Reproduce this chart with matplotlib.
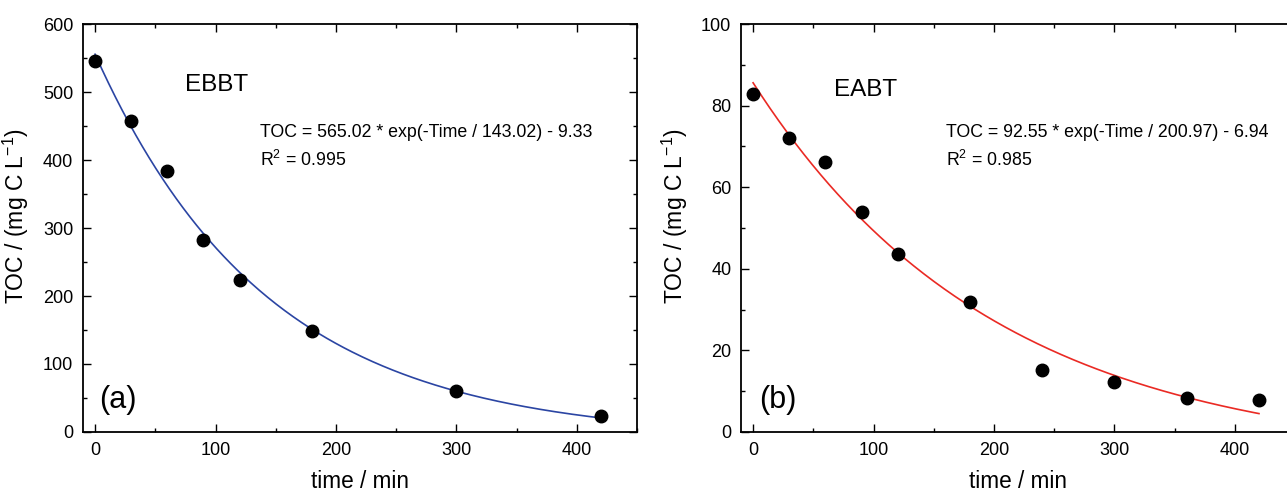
import numpy as np
import matplotlib
matplotlib.use('Agg')
import matplotlib.pyplot as plt
from matplotlib.ticker import MultipleLocator

plt.rcParams['font.family'] = ['Liberation Sans', 'DejaVu Sans']
plt.rcParams['mathtext.fontset'] = 'custom'
plt.rcParams['mathtext.rm'] = 'Liberation Sans'

# panel (a) EBBT
t_a = [0, 30, 60, 90, 120, 180, 300, 420]
toc_a = [545, 457, 384, 282, 223, 148, 60, 23]
fit_a = (565.02, 143.02, 9.33)   # A, tau, c  -> A*exp(-t/tau) - c
eq_a = 'TOC = 565.02 * exp(-Time / 143.02) - 9.33'
r2_a = '0.995'

# panel (b) EABT
t_b = [0, 30, 60, 90, 120, 180, 240, 300, 360, 420]
toc_b = [82.8, 72.1, 66.3, 54.0, 43.7, 31.8, 15.1, 12.2, 8.3, 7.9]
fit_b = (92.55, 200.97, 6.94)
eq_b = 'TOC = 92.55 * exp(-Time / 200.97) - 6.94'
r2_b = '0.985'

fig = plt.figure(figsize=(12.87, 4.92), dpi=100)
ax1 = fig.add_axes([0.0645, 0.122, 0.4305, 0.829])
ax2 = fig.add_axes([0.5758, 0.122, 0.4305, 0.829])

def panel(ax, t, y, fit, col, ymax, ymaj, name, eq, r2, tag, pos):
  tt = np.linspace(0, 420, 300)
  A, tau, c = fit
  ax.plot(tt, A*np.exp(-tt/tau) - c, color=col, lw=1.2, zorder=2)
  ax.plot(t, y, 'o', color='black', ms=9, zorder=3)
  ax.set_xlim(-10, 450)
  ax.set_ylim(0, ymax)
  ax.xaxis.set_major_locator(MultipleLocator(100))
  ax.xaxis.set_minor_locator(MultipleLocator(50))
  ax.yaxis.set_major_locator(MultipleLocator(ymaj))
  ax.yaxis.set_minor_locator(MultipleLocator(ymaj/2))
  ax.tick_params(which='both', direction='in', top=True, right=True, labelsize=13, width=1)
  ax.tick_params(which='major', length=6, pad=7)
  ax.tick_params(which='minor', length=3)
  for s in ax.spines.values():
    s.set_linewidth(1.3)
  ax.set_xlabel('time / min', fontsize=16.3, labelpad=8)
  ax.set_ylabel('TOC / (mg C L$^{-1}$)', fontsize=16.5)
  ax.yaxis.set_label_coords(-0.093, 0.53)
  ex, ey, qx, qy, ry, tx, ty = pos
  ax.text(ex, ey, name, fontsize=17.5, va='center')
  ax.text(qx, qy, eq, fontsize=12.8, va='center')
  ax.text(qx, ry, 'R$^2$ = ' + r2, fontsize=12.8, va='center')
  ax.text(tx, ty, tag, fontsize=22, va='center')

panel(ax1, t_a, toc_a, fit_a, '#2b45a3', 600, 100, 'EBBT', eq_a, r2_a, '(a)',
      (75, 510, 137, 440, 400, 3, 47))
panel(ax2, t_b, toc_b, fit_b, '#ea2a24', 100, 20, 'EABT', eq_b, r2_b, '(b)',
      (67, 83.8, 160, 73.5, 66.7, 5, 7.8))

fig.savefig('out.png', dpi=100)
